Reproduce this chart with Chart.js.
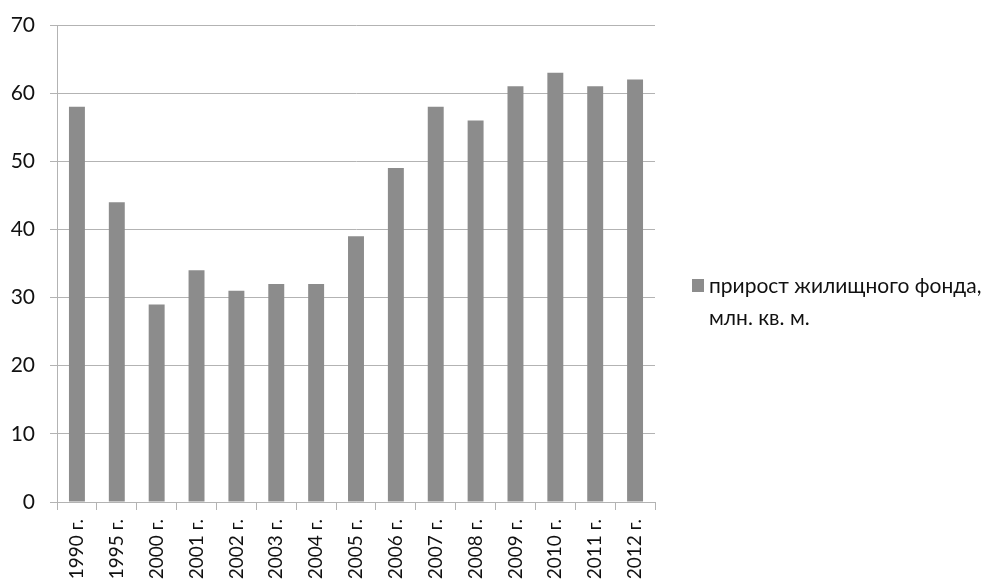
<!DOCTYPE html>
<html>
<head>
<meta charset="utf-8">
<script src="https://cdn.jsdelivr.net/npm/chart.js@4/dist/chart.umd.min.js"></script>
<style>
html,body{margin:0;padding:0;background:#fff;}
#wrap{width:987px;height:586px;position:relative;}
</style>
</head>
<body>
<div id="wrap"><canvas id="c" width="987" height="586"></canvas></div>
<script>
const categories = ["1990 г.","1995 г.","2000 г.","2001 г.","2002 г.","2003 г.","2004 г.","2005 г.","2006 г.","2007 г.","2008 г.","2009 г.","2010 г.","2011 г.","2012 г."];
const values = [58, 44, 29, 34, 31, 32, 32, 39, 49, 58, 56, 61, 63, 61, 62];
const seriesLabel = ["прирост жилищного фонда,", "млн. кв. м."];
const yTicks = [0, 10, 20, 30, 40, 50, 60, 70];

const FONT = "Lato, 'Open Sans', sans-serif";
const legendPlugin = {
  id: 'sideLegend',
  afterDraw(chart) {
    const ctx = chart.ctx;
    const ds = chart.data.datasets[0];
    const x = 692, y = 286;
    ctx.save();
    ctx.fillStyle = ds.backgroundColor;
    ctx.fillRect(x, y - 7, 12, 13);
    ctx.fillStyle = '#111';
    ctx.font = "21px " + FONT;
    ctx.textBaseline = 'middle';
    ctx.textAlign = 'left';
    ds.legendLines.forEach((t, i) => ctx.fillText(t, x + 17, y + i * 32));
    ctx.restore();
  }
};

new Chart(document.getElementById('c'), {
  type: 'bar',
  data: {
    labels: categories,
    datasets: [{
      label: seriesLabel.join(' '),
      legendLines: seriesLabel,
      data: values,
      backgroundColor: '#8c8c8c',
      borderWidth: 0,
      barPercentage: 0.4,
      categoryPercentage: 1.0
    }]
  },
  options: {
    responsive: false,
    animation: false,
    devicePixelRatio: 1,
    layout: { padding: { left: 0, right: 332, top: 25, bottom: 0 } },
    plugins: { legend: { display: false }, tooltip: { enabled: false } },
    scales: {
      x: {
        offset: true,
        grid: { display: true, drawOnChartArea: false, drawTicks: true, tickLength: 8, color: '#b3b3b3', offset: true },
        border: { display: true, color: '#b3b3b3', width: 1 },
        ticks: { maxRotation: 90, minRotation: 90, padding: 9, color: '#111', font: { size: 19, family: FONT } },
        afterFit(scale) { scale.height = 84; scale.paddingLeft = 0; scale.paddingRight = 0; }
      },
      y: {
        min: 0, max: 70,
        afterBuildTicks(scale) { scale.ticks = yTicks.map(v => ({ value: v })); },
        grid: { color: '#b3b3b3', lineWidth: 1, drawTicks: true, tickLength: 7 },
        border: { display: true, color: '#b3b3b3', width: 1 },
        ticks: { padding: 15, color: '#111', font: { size: 21, family: FONT } },
        afterFit(scale) { scale.width = 57; scale.paddingTop = 0; scale.paddingBottom = 0; }
      }
    }
  },
  plugins: [legendPlugin]
});
</script>
</body>
</html>
